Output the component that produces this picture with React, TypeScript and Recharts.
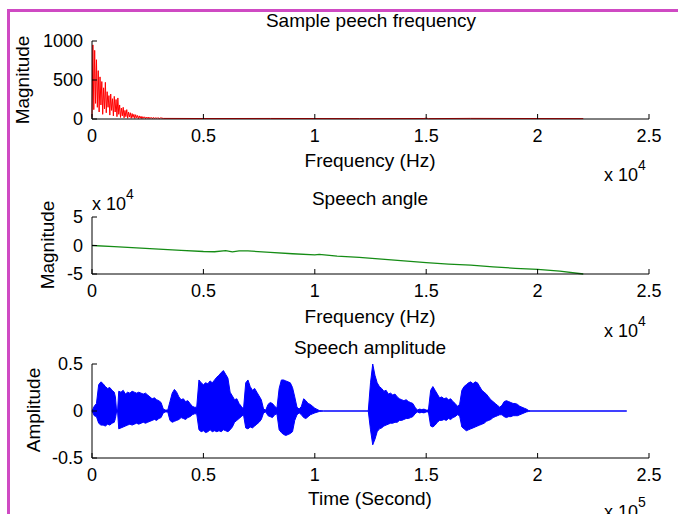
import React from 'react';
import { LineChart, Line, AreaChart, Area, XAxis, YAxis } from 'recharts';

// spectrum magnitude (Hz, |X|)
const specFreq = [
  0, 40, 80, 120, 160, 200, 240, 280, 320, 360, 400, 440, 480, 520, 560, 600, 640, 680, 720, 760,
  800, 840, 880, 920, 960, 1000, 1040, 1080, 1120, 1160, 1200, 1240, 1280, 1320, 1360, 1400, 1440, 1480, 1520, 1560,
  1600, 1640, 1680, 1720, 1760, 1800, 1840, 1880, 1920, 1960, 2000, 2040, 2080, 2120, 2160, 2200, 2240, 2280, 2320, 2360,
  2400, 2440, 2480, 2520, 2560, 2600, 2640, 2680, 2720, 2760, 2800, 2840, 2880, 2920, 2960, 3000, 3040, 3080, 3200,
  5000, 8000, 10000, 12000, 14900, 15000, 15100, 17000, 20000, 22050,
];
const specMag = [
  20, 950, 120, 880, 200, 760, 150, 620, 90, 540, 180, 480, 60, 400, 130, 470, 80, 350, 150, 300,
  50, 320, 110, 260, 40, 290, 90, 250, 30, 270, 60, 180, 20, 140, 40, 150, 15, 110, 30, 120,
  10, 90, 25, 80, 10, 70, 20, 60, 8, 55, 15, 45, 5, 40, 10, 35, 5, 30, 10, 28,
  5, 25, 8, 25, 5, 22, 8, 20, 5, 20, 6, 18, 5, 18, 6, 16, 5, 15, 8,
  6, 7, 6, 5, 6, 12, 5, 8, 6, 5,
];

// unwrapped phase (Hz, rad)
const angleFreq = [
  0, 1000, 2000, 3000, 4000, 5000, 5500, 6000, 6300, 6600, 7000, 8000, 9000, 10000, 10200, 11000,
  12000, 13000, 14000, 15000, 16000, 17000, 18000, 19000, 20000, 21000, 22050,
];
const angleVal = [
  0, -2000, -4000, -6500, -8500, -10500, -11000, -9000, -11000, -9500, -9500, -12000, -14500, -16500, -15500, -18500,
  -21000, -24000, -27000, -30000, -32500, -34500, -37500, -40000, -42000, -45000, -50000,
];

// waveform envelope (sample, upper, lower)
const ampTime = [
  0, 1000, 2000, 3000, 4000, 5000, 6000, 7000, 8000, 9000, 10000, 10500, 11000, 11500,
  12000, 13000, 14000, 15000, 16000, 17000, 18000, 19000, 20000, 21000, 22000, 23000, 24000, 25000,
  26000, 27000, 28000, 29000, 30000, 31000, 32000, 33000, 34000, 35000, 36000, 37000, 38000, 39000,
  40000, 41000, 42000, 43000, 44000, 45000, 46000, 47000, 48000, 49000, 50000, 51000, 52000, 53000,
  54000, 55000, 56000, 57000, 58000, 59000, 60000, 61000, 62000, 63000, 64000, 65000, 66000, 67000,
  68000, 69000, 70000, 71000, 72000, 73000, 74000, 75000, 76000, 77000, 78000, 79000, 80000, 81000,
  82000, 83000, 84000, 85000, 86000, 87000, 88000, 89000, 90000, 91000, 92000, 93000, 94000, 95000,
  96000, 97000, 98000, 99000, 100000, 102000, 104000, 124000, 125000, 126000, 127000, 128000, 129000, 130000,
  131000, 132000, 133000, 134000, 135000, 136000, 137000, 138000, 139000, 140000, 141000, 142000, 143000, 144000,
  145000, 146000, 147000, 148000, 149000, 150000, 151000, 152000, 153000, 154000, 155000, 156000, 157000, 158000,
  159000, 160000, 161000, 162000, 163000, 164000, 165000, 166000, 167000, 168000, 169000, 170000, 171000, 172000,
  173000, 174000, 175000, 176000, 177000, 178000, 179000, 180000, 181000, 182000, 183000, 184000, 185000, 186000,
  187000, 188000, 189000, 190000, 191000, 192000, 193000, 194000, 195000, 196000, 197000, 240000,
];
const ampHigh = [
  0, 0.05, 0.08, 0.28, 0.31, 0.29, 0.26, 0.24, 0.25, 0.22, 0.2, 0.15, 0.01, 0.01,
  0.21, 0.2, 0.22, 0.18, 0.2, 0.19, 0.21, 0.2, 0.19, 0.2, 0.19, 0.18, 0.19, 0.17,
  0.15, 0.13, 0.14, 0.12, 0.11, 0.09, 0.02, 0.01, 0.01, 0.1, 0.19, 0.23, 0.2, 0.15,
  0.12, 0.13, 0.1, 0.11, 0.08, 0.05, 0.04, 0.04, 0.33, 0.3, 0.28, 0.3, 0.29, 0.32,
  0.3, 0.33, 0.36, 0.38, 0.41, 0.43, 0.39, 0.35, 0.2, 0.16, 0.12, 0.13, 0.08, 0.05,
  0.02, 0.3, 0.33, 0.26, 0.22, 0.24, 0.2, 0.16, 0.12, 0.02, 0.01, 0.07, 0.09, 0.08,
  0.05, 0.03, 0.24, 0.33, 0.33, 0.32, 0.31, 0.3, 0.25, 0.15, 0.04, 0.02, 0.05, 0.13,
  0.11, 0.08, 0.07, 0.05, 0.03, 0.005, 0, 0, 0.3, 0.5, 0.38, 0.3, 0.26, 0.24,
  0.21, 0.22, 0.18, 0.19, 0.17, 0.18, 0.15, 0.13, 0.12, 0.11, 0.12, 0.1, 0.09, 0.08,
  0.04, 0.01, 0.02, 0.015, 0.02, 0.01, 0.01, 0.22, 0.26, 0.22, 0.18, 0.14, 0.15, 0.13,
  0.14, 0.12, 0.13, 0.1, 0.08, 0.05, 0.07, 0.22, 0.26, 0.28, 0.3, 0.31, 0.29, 0.31,
  0.3, 0.26, 0.22, 0.2, 0.18, 0.15, 0.12, 0.1, 0.08, 0.06, 0.04, 0.06, 0.1, 0.11,
  0.1, 0.09, 0.08, 0.08, 0.07, 0.05, 0.04, 0.03, 0.02, 0.005, 0, 0,
];
const ampLow = [
  0, -0.05, -0.06, -0.13, -0.15, -0.15, -0.16, -0.14, -0.15, -0.13, -0.12, -0.08, -0.01, -0.01,
  -0.19, -0.18, -0.17, -0.16, -0.15, -0.14, -0.15, -0.14, -0.13, -0.14, -0.13, -0.12, -0.13, -0.12,
  -0.11, -0.1, -0.09, -0.1, -0.08, -0.07, -0.02, -0.01, -0.01, -0.1, -0.12, -0.11, -0.1, -0.09,
  -0.07, -0.08, -0.09, -0.07, -0.06, -0.04, -0.03, -0.03, -0.2, -0.22, -0.21, -0.23, -0.22, -0.2,
  -0.22, -0.21, -0.22, -0.21, -0.22, -0.2, -0.21, -0.22, -0.2, -0.17, -0.12, -0.1, -0.08, -0.06,
  -0.04, -0.18, -0.19, -0.17, -0.18, -0.16, -0.14, -0.12, -0.09, -0.02, -0.01, -0.05, -0.06, -0.07,
  -0.04, -0.03, -0.2, -0.23, -0.25, -0.26, -0.25, -0.24, -0.22, -0.1, -0.04, -0.02, -0.04, -0.07,
  -0.08, -0.06, -0.04, -0.03, -0.02, -0.005, 0, 0, -0.2, -0.36, -0.3, -0.22, -0.19, -0.18,
  -0.16, -0.15, -0.14, -0.13, -0.13, -0.12, -0.12, -0.1, -0.1, -0.09, -0.08, -0.08, -0.07, -0.06,
  -0.03, -0.01, -0.02, -0.015, -0.02, -0.01, -0.01, -0.16, -0.17, -0.15, -0.12, -0.1, -0.1, -0.09,
  -0.1, -0.08, -0.09, -0.07, -0.06, -0.04, -0.05, -0.17, -0.19, -0.21, -0.2, -0.19, -0.18, -0.17,
  -0.16, -0.15, -0.14, -0.13, -0.11, -0.1, -0.09, -0.07, -0.06, -0.05, -0.04, -0.04, -0.06, -0.07,
  -0.06, -0.06, -0.05, -0.05, -0.05, -0.04, -0.03, -0.02, -0.01, -0.005, 0, 0,
];

const freqTicks = [0, 5000, 10000, 15000, 20000, 25000];
const timeTicks = [0, 50000, 100000, 150000, 200000, 250000];
const magTicks = [0, 500, 1000];
const angleTicks = [-50000, 0, 50000];
const ampTicks = [-0.5, 0, 0.5];

const specData = specFreq.map((f, i) => ({ f, mag: specMag[i] }));
const angleData = angleFreq.map((f, i) => ({ f, ang: angleVal[i] }));
const ampData = ampTime.map((t, i) => ({ t, hi: ampHigh[i], lo: ampLow[i] }));

const W = 678;
const tickStyle = { fill: '#000', fontSize: 18 };
const axisStroke = { stroke: '#000' };

// matlab style box: inward ticks on all four sides
function boxAxes(xKey: string, xDomain: number[], xTicks: number[], xDiv: number, xHeight: number,
  yDomain: number[], yTicks: number[], yFmt: (v: number) => string) {
  return [
    <XAxis key="xb" xAxisId="b" dataKey={xKey} type="number" domain={xDomain} ticks={xTicks}
      tickFormatter={(v: number) => String(v / xDiv)} height={xHeight} tickSize={-5} tickMargin={15}
      tick={tickStyle} axisLine={axisStroke} tickLine={axisStroke} interval={0} />,
    <XAxis key="xt" xAxisId="t" orientation="top" dataKey={xKey} type="number" domain={xDomain} ticks={xTicks}
      height={0} tickSize={-5} tick={false} axisLine={axisStroke} tickLine={axisStroke} />,
    <YAxis key="yl" yAxisId="l" type="number" domain={yDomain} ticks={yTicks} tickFormatter={yFmt}
      width={92} tickSize={-5} tickMargin={14} tick={tickStyle} axisLine={axisStroke} tickLine={axisStroke} interval={0} />,
    <YAxis key="yr" yAxisId="r" orientation="right" type="number" domain={yDomain} ticks={yTicks}
      width={0} tickSize={-5} tick={false} axisLine={axisStroke} tickLine={axisStroke} />,
  ];
}

const Txt = ({ x, y, size = 19, rotate = false, children }: any) => (
  <div style={{
    position: 'absolute', left: x, top: y, fontSize: size, whiteSpace: 'nowrap', lineHeight: 1,
    transform: `translate(-50%, -50%)${rotate ? ' rotate(-90deg)' : ''}`,
  }}>{children}</div>
);

const Sci = ({ x, y, exp }: { x: number; y: number; exp: string }) => (
  <div style={{ position: 'absolute', left: x, top: y, fontSize: 18, lineHeight: 1, whiteSpace: 'nowrap' }}>
    x 10<span style={{ fontSize: 14, position: 'relative', top: -11 }}>{exp}</span>
  </div>
);

export default function App() {
  return (
    <div style={{
      position: 'absolute', left: 0, top: 0, width: W, height: 514, overflow: 'hidden',
      background: '#fff', fontFamily: '"Liberation Sans", Arial, sans-serif', color: '#000',
    }}>
      <div style={{ position: 'absolute', left: 7, top: 9, width: 700, height: 600, borderLeft: '3px solid #cf4ac3', borderTop: '3px solid #cf4ac3' }} />

      <div style={{ position: 'absolute', left: 0, top: 0 }}>
        <LineChart width={W} height={145} data={specData} margin={{ top: 41, right: 29, left: 0, bottom: 0 }}>
          {boxAxes('f', [0, 25000], freqTicks, 10000, 26, [0, 1000], magTicks, (v) => String(v))}
          <Line xAxisId="b" yAxisId="l" dataKey="mag" type="linear" stroke="#ff0000" strokeWidth={1} dot={false} isAnimationActive={false} />
        </LineChart>
      </div>
      <Txt x={371} y={20}>Sample peech frequency</Txt>
      <Txt x={22} y={80} rotate>Magnitude</Txt>
      <Txt x={370} y={160}>Frequency (Hz)</Txt>
      <Sci x={604} y={166} exp="4" />

      <div style={{ position: 'absolute', left: 0, top: 180 }}>
        <LineChart width={W} height={125} data={angleData} margin={{ top: 37, right: 29, left: 0, bottom: 0 }}>
          {boxAxes('f', [0, 25000], freqTicks, 10000, 31, [-50000, 50000], angleTicks, (v) => String(v / 10000))}
          <Line xAxisId="b" yAxisId="l" dataKey="ang" type="linear" stroke="#158c15" strokeWidth={1.3} dot={false} isAnimationActive={false} />
        </LineChart>
      </div>
      <Txt x={370} y={198}>Speech angle</Txt>
      <Sci x={92} y={195} exp="4" />
      <Txt x={47} y={245} rotate>Magnitude</Txt>
      <Txt x={370} y={316}>Frequency (Hz)</Txt>
      <Sci x={604} y={322} exp="4" />

      <div style={{ position: 'absolute', left: 0, top: 330 }}>
        <AreaChart width={W} height={175} data={ampData} margin={{ top: 34, right: 29, left: 0, bottom: 25 }}>
          {boxAxes('t', [0, 250000], timeTicks, 100000, 22, [-0.5, 0.5], ampTicks, (v) => String(v))}
          <Area xAxisId="b" yAxisId="l" dataKey={(d: any) => [d.lo, d.hi]} type="linear" stroke="#0000ff" strokeWidth={1} fill="#0000ff" fillOpacity={1} dot={false} isAnimationActive={false} />
        </AreaChart>
      </div>
      <Txt x={370} y={347}>Speech amplitude</Txt>
      <Txt x={33} y={410} rotate>Amplitude</Txt>
      <Txt x={370} y={498}>Time (Second)</Txt>
      <Sci x={604} y={503} exp="5" />
    </div>
  );
}
